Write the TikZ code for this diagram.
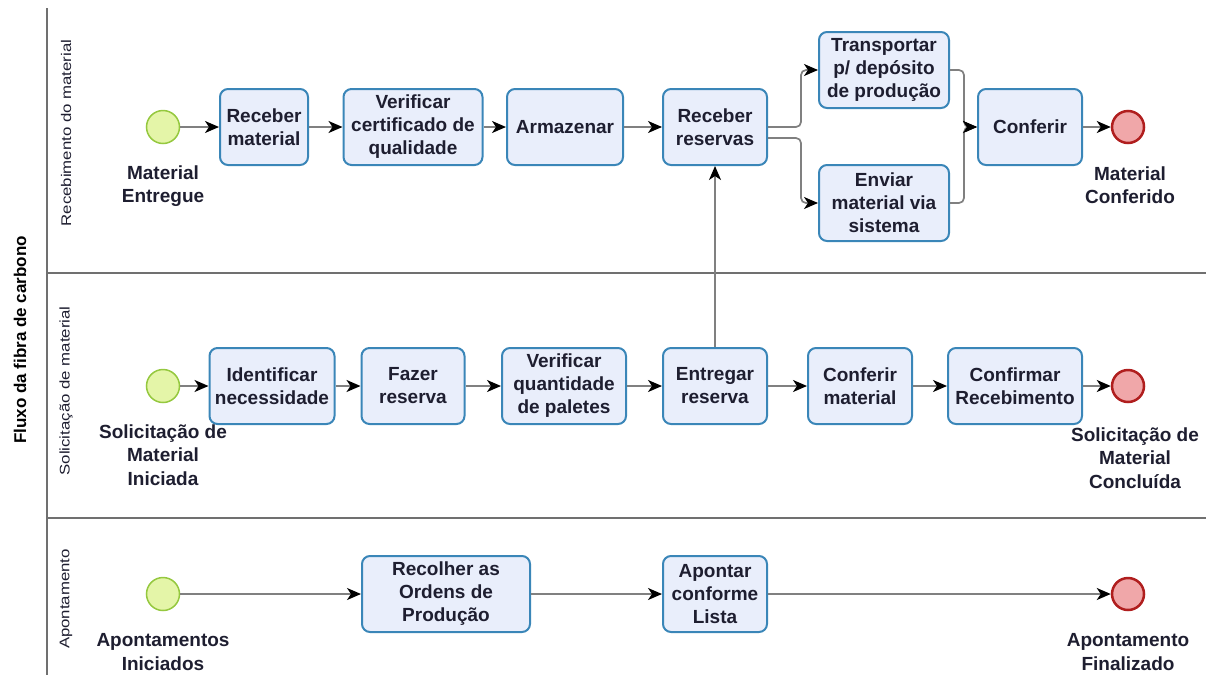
\documentclass[tikz,border=0pt]{standalone}
\usepackage{fontspec}
\setmainfont{Liberation Sans}
\usetikzlibrary{arrows.meta, positioning}

\definecolor{tarefaborda}{HTML}{3A86B8}
\definecolor{tarefafundo}{HTML}{E9EEFB}
\definecolor{inicioborda}{HTML}{95C83F}
\definecolor{iniciofundo}{HTML}{E4F5A8}
\definecolor{fimborda}{HTML}{B01E1E}
\definecolor{fimfundo}{HTML}{F0A7A9}
\definecolor{linhacinza}{HTML}{808080}
\definecolor{raiacinza}{HTML}{707070}
\definecolor{textoescuro}{HTML}{1E1E30}

\tikzset{
  tarefa/.style={draw=tarefaborda, fill=tarefafundo, line width=2pt, rounded corners=8pt,
    align=center, text=textoescuro, font=\bfseries\fontsize{19}{23}\selectfont,
    minimum height=76pt, inner sep=1pt},
  inicio/.style={circle, draw=inicioborda, fill=iniciofundo, line width=1.5pt, minimum size=33pt, inner sep=0pt},
  fim/.style={circle, draw=fimborda, fill=fimfundo, line width=2.5pt, minimum size=32pt, inner sep=0pt},
  rotulo/.style={align=center, text=textoescuro, font=\bfseries\fontsize{19}{23.5}\selectfont, inner sep=0pt},
  raiatexto/.style={rotate=90, font=\fontsize{14}{16}\selectfont, text=textoescuro},
  fluxo/.style={draw=linhacinza, line width=1.7pt, -{Stealth[black, length=14pt, width=12pt, inset=4pt]}},
  raia/.style={draw=raiacinza, line width=1.5pt}
}

\begin{document}
\begin{tikzpicture}[x=1pt, y=-1pt, node distance=12pt]
\useasboundingbox (0,0) rectangle (1206,675);

%Raias
\draw[raia] (47,8) -- (47,675);
\draw[raia] (47,273) -- (1206,273);
\draw[raia] (47,518) -- (1206,518);
\node (pool) [rotate=90, font=\bfseries\fontsize{17}{19}\selectfont, text=black] at (20,340) {Fluxo da fibra de carbono};
\node (raia1) [raiatexto] at (66,133) {\scalebox{1.2}[1]{Recebimento do material}};
\node (raia2) [raiatexto] at (66,391) {\scalebox{1.2}[1]{Solicitação de material}};
\node (raia3) [raiatexto] at (66,599) {\scalebox{1.2}[1]{Apontamento}};

%Knoten - Recebimento
\node (ini1) [inicio] at (163,127) {};
\node (t1) [tarefa, minimum width=88pt] at (264,127) {Receber\\material};
\node (t2) [tarefa, minimum width=139pt] at (413,127) {Verificar\\certificado de\\qualidade};
\node (t3) [tarefa, minimum width=116pt] at (565,127) {Armazenar};
\node (t4) [tarefa, minimum width=104pt] at (715,127) {Receber\\reservas};
\node (t5) [tarefa, minimum width=130pt] at (884,70) {Transportar\\p/ depósito\\de produção};
\node (t6) [tarefa, minimum width=130pt] at (884,203) {Enviar\\material via\\sistema};
\node (t7) [tarefa, minimum width=104pt] at (1030,127) {Conferir};
\node (fim1) [fim] at (1128,127) {};
\node (r1) [rotulo, below=21pt of ini1] {Material\\Entregue};
\node (r2) [rotulo, below=22pt of fim1, xshift=2pt] {Material\\Conferido};

%Knoten - Solicitacao
\node (ini2) [inicio] at (163,386) {};
\node (t8) [tarefa, minimum width=125pt] at (272,386) {Identificar\\necessidade};
\node (t9) [tarefa, minimum width=103pt] at (413,386) {Fazer\\reserva};
\node (t10) [tarefa, minimum width=124pt] at (564,386) {Verificar\\quantidade\\de paletes};
\node (t11) [tarefa, minimum width=104pt] at (715,386) {Entregar\\reserva};
\node (t12) [tarefa, minimum width=104pt] at (860,386) {Conferir\\material};
\node (t13) [tarefa, minimum width=134pt] at (1015,386) {Confirmar\\Recebimento};
\node (fim2) [fim] at (1128,386) {};
\node (r3) [rotulo, below=21pt of ini2] {Solicitação de\\Material\\Iniciada};
\node (r4) [rotulo, below=24pt of fim2, xshift=7pt] {Solicitação de\\Material\\Concluída};

%Knoten - Apontamento
\node (ini3) [inicio] at (163,594) {};
\node (t14) [tarefa, minimum width=168pt] at (446,594) {Recolher as\\Ordens de\\Produção};
\node (t15) [tarefa, minimum width=104pt] at (715,594) {Apontar\\conforme\\Lista};
\node (fim3) [fim] at (1128,594) {};
\node (r5) [rotulo, below=22pt of ini3] {Apontamentos\\Iniciados};
\node (r6) [rotulo, below=22pt of fim3] {Apontamento\\Finalizado};

%Verbindungen
\path[fluxo]
(ini1) edge (t1)
(t1) edge (t2)
(t2) edge (t3)
(t3) edge (t4)
(t7) edge (fim1)

(ini2) edge (t8)
(t8) edge (t9)
(t9) edge (t10)
(t10) edge (t11)
(t11) edge (t12)
(t12) edge (t13)
(t13) edge (fim2)
(t11) edge (t4)

(ini3) edge (t14)
(t14) edge (t15)
(t15) edge (fim3)
;
\draw[fluxo, rounded corners=5pt] (t4.east) -- ++(33,0) |- (t5.west);
\draw[fluxo, rounded corners=5pt] ([yshift=-11pt]t4.east) -- ++(33,0) |- (t6.west);
\draw[fluxo, rounded corners=5pt] (t5.east) -- ++(14,0) |- (t7.west);
\draw[fluxo, rounded corners=5pt] (t6.east) -- ++(14,0) |- (t7.west);
\end{tikzpicture}
\end{document}
